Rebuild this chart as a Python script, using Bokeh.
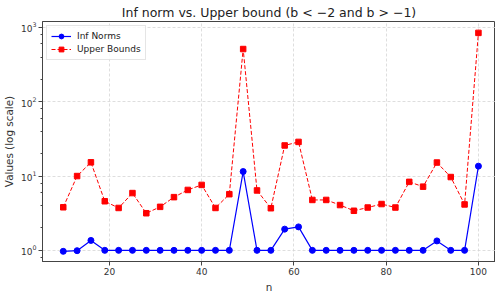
from bokeh.plotting import figure
from bokeh.models import Range1d, FixedTicker, LogTicker, LogTickFormatter, Title
from bokeh.embed import file_html
from bokeh.resources import INLINE

n_values = [10, 13, 16, 19, 22, 25, 28, 31, 34, 37, 40, 43, 46, 49, 52, 55,
            58, 61, 64, 67, 70, 73, 76, 79, 82, 85, 88, 91, 94, 97, 100]
inf_norms = [0.97, 0.99, 1.36, 1.0, 1.0, 1.0, 1.0, 1.0, 1.0, 1.0, 1.0, 1.0, 1.0, 11.5, 1.0, 1.0,
             1.93, 2.07, 1.0, 1.0, 1.0, 1.0, 1.0, 1.0, 1.0, 1.0, 1.0, 1.34, 1.0, 1.0, 13.6]
upper_bounds = [3.8, 10.0, 15.3, 4.58, 3.72, 5.9, 3.16, 3.85, 5.2, 6.5, 7.6, 3.72, 5.7, 512, 6.4, 3.69,
                25.8, 28.8, 4.77, 4.77, 4.07, 3.41, 3.77, 4.2, 3.77, 8.35, 7.2, 15.2, 9.7, 4.15, 845]
x_ticks = [20, 40, 60, 80, 100]

title_text = "Inf norm vs. Upper bound (b < \u22122 and b > \u22121)"
x_label = "n"
y_label = "Values (log scale)"

FONT = "DejaVu Sans"

p = figure(width=495, height=298, y_axis_type="log",
           x_range=Range1d(5.5, 103.7), y_range=Range1d(10 ** -0.15, 10 ** 3.08),
           output_backend="svg", toolbar_location=None,
           min_border_left=42, min_border_right=0, min_border_top=0, min_border_bottom=37)
p.title = Title(text=title_text, align="center", text_font=FONT, text_font_size="12.5px",
                text_font_style="normal", text_color="#222222", standoff=4)

p.background_fill_color = "white"
p.border_fill_color = "white"
p.outline_line_color = "#444444"
p.outline_line_width = 1

# grid
for g in (p.xgrid, p.ygrid):
    g.grid_line_color = "#d6d6d6"
    g.grid_line_dash = "3 2"
    g.grid_line_width = 0.8

# axes
p.xaxis.ticker = FixedTicker(ticks=x_ticks)
p.yaxis.ticker = LogTicker(desired_num_ticks=4)
p.yaxis.formatter = LogTickFormatter()
for ax in (p.xaxis, p.yaxis):
    ax.axis_line_color = "#444444"
    ax.major_tick_line_color = "#444444"
    ax.minor_tick_line_color = "#444444"
    ax.major_tick_out = 4
    ax.major_tick_in = 0
    ax.minor_tick_out = 2
    ax.minor_tick_in = 0
    ax.major_label_text_font = FONT
    ax.major_label_text_font_size = "9px"
    ax.major_label_text_color = "#333333"
    ax.axis_label_text_font = FONT
    ax.axis_label_text_font_size = "10.4px"
    ax.axis_label_text_font_style = "normal"
    ax.axis_label_text_color = "#333333"
    ax.major_label_standoff = 2
p.xaxis.axis_label = x_label
p.yaxis.axis_label = y_label
p.xaxis.axis_label_standoff = 3
p.yaxis.axis_label_standoff = 3

# series
p.line(n_values, inf_norms, line_color="#0000ff", line_width=1.2, legend_label="Inf Norms")
p.scatter(n_values, inf_norms, marker="circle", size=6, fill_color="#0000ff",
          line_color="#0000ff", legend_label="Inf Norms")
p.line(n_values, upper_bounds, line_color="#ff0000", line_width=1, line_dash="4 2",
       legend_label="Upper Bounds")
p.scatter(n_values, upper_bounds, marker="square", size=5.5, fill_color="#ff0000",
          line_color="#ff0000", legend_label="Upper Bounds")

lg = p.legend[0]
lg.location = "top_left"
lg.margin = 4
lg.padding = 4
lg.spacing = 1
lg.glyph_width = 20
lg.glyph_height = 12
lg.label_height = 12
lg.label_standoff = 6
lg.label_text_font = FONT
lg.label_text_font_size = "9px"
lg.label_text_color = "#222222"
lg.border_line_color = "#cccccc"
lg.border_line_width = 1
lg.background_fill_color = "white"
lg.background_fill_alpha = 0.8

open("out.html", "w").write(file_html(p, INLINE))
